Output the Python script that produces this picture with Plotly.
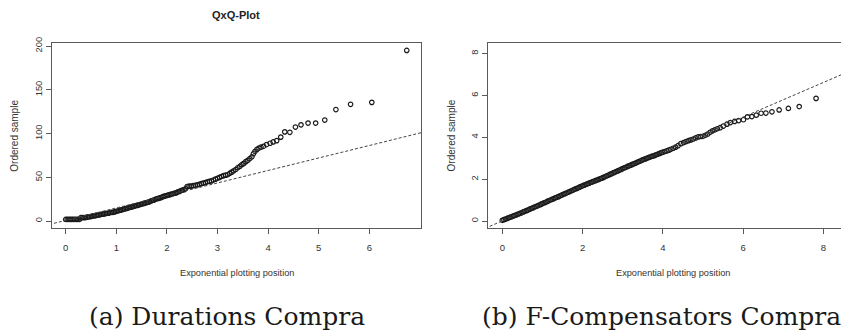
import plotly.graph_objects as go

# ---------------- data ----------------
# (a) Durations Compra : exponential plotting position vs ordered sample
dur_x = [0.00, 0.03, 0.06, 0.09, 0.12, 0.15, 0.18, 0.21, 0.24, 0.27,
         0.30, 0.33, 0.36, 0.39, 0.42, 0.45, 0.48, 0.51, 0.54, 0.57,
         0.60, 0.63, 0.66, 0.69, 0.72, 0.75, 0.78, 0.81, 0.84, 0.87,
         0.90, 0.93, 0.96, 0.99, 1.02, 1.05, 1.08, 1.11, 1.14, 1.17,
         1.20, 1.23, 1.26, 1.29, 1.32, 1.35, 1.38, 1.41, 1.44, 1.47,
         1.50, 1.53, 1.56, 1.59, 1.62, 1.65, 1.68, 1.71, 1.74, 1.77,
         1.80, 1.83, 1.86, 1.89, 1.92, 1.95, 1.98, 2.01, 2.04, 2.07,
         2.10, 2.13, 2.16, 2.19, 2.22, 2.25, 2.28, 2.31, 2.34, 2.37,
         2.40, 2.44, 2.48, 2.52, 2.56, 2.60, 2.64, 2.68, 2.72, 2.76,
         2.80, 2.84, 2.88, 2.92, 2.96, 3.00, 3.04, 3.08, 3.12, 3.16,
         3.20, 3.24, 3.28, 3.32, 3.36, 3.40, 3.44, 3.48, 3.52, 3.56,
         3.60, 3.64, 3.68, 3.71, 3.74, 3.78, 3.82, 3.86, 3.91, 3.97,
         4.04, 4.10, 4.17, 4.25, 4.33, 4.43, 4.54, 4.65, 4.79, 4.94,
         5.12, 5.34, 5.63, 6.05, 6.74]
dur_y = [2, 2, 2, 2, 2, 2, 2, 2, 2, 2,
         4, 4, 4, 4, 4.5, 5, 5, 5.5, 6, 6,
         6.5, 7, 7, 7.5, 8, 8, 8.5, 9, 9, 9.5,
         10, 10, 10.5, 11, 11.5, 12, 12.5, 13, 13.5, 14,
         14.5, 15, 15.5, 16, 16.5, 17, 17.5, 18, 18.5, 19,
         19.5, 20, 20.5, 21, 21.5, 22, 23, 23.5, 24, 25,
         25.5, 26, 26.5, 27, 28, 28.5, 29, 29.5, 30, 30.5,
         31, 31.5, 32, 32.5, 33.5, 34, 35, 35.5, 36, 37,
         39.5, 40, 40, 40.5, 41, 41.5, 42, 43, 43.5, 44,
         45, 45.5, 46, 47, 48, 49, 50, 51, 52, 52.5,
         53, 54.5, 56, 57.5, 59, 61, 62.5, 64.5, 66, 68,
         69.5, 71.5, 73.5, 77, 79.5, 82, 83.5, 84.5, 85.5, 87.5,
         89, 90.5, 92, 96, 102, 101.5, 107.5, 110, 112, 112,
         115.5, 127.5, 133.5, 135.7, 195]
dur_line = [0.85, 14.26]          # intercept, slope of the dashed reference line

# (b) F-Compensators Compra
comp_x = [0.00, 0.04, 0.08, 0.12, 0.16, 0.20, 0.24, 0.28, 0.32, 0.36,
          0.40, 0.44, 0.48, 0.52, 0.56, 0.60, 0.64, 0.68, 0.72, 0.76,
          0.80, 0.84, 0.88, 0.92, 0.96, 1.00, 1.04, 1.08, 1.12, 1.16,
          1.20, 1.24, 1.28, 1.32, 1.36, 1.40, 1.44, 1.48, 1.52, 1.56,
          1.60, 1.64, 1.68, 1.72, 1.76, 1.80, 1.84, 1.88, 1.92, 1.96,
          2.00, 2.04, 2.08, 2.12, 2.16, 2.20, 2.24, 2.28, 2.32, 2.36,
          2.40, 2.44, 2.48, 2.52, 2.56, 2.60, 2.64, 2.68, 2.72, 2.76,
          2.80, 2.84, 2.88, 2.92, 2.96, 3.00, 3.04, 3.08, 3.12, 3.16,
          3.20, 3.24, 3.28, 3.32, 3.36, 3.40, 3.44, 3.48, 3.52, 3.56,
          3.60, 3.64, 3.68, 3.72, 3.76, 3.80, 3.84, 3.88, 3.92, 3.96,
          4.00, 4.05, 4.10, 4.15, 4.20, 4.26, 4.32, 4.38, 4.45, 4.52,
          4.58, 4.64, 4.70, 4.76, 4.82, 4.88, 4.94, 5.00, 5.06, 5.12,
          5.18, 5.24, 5.30, 5.36, 5.43, 5.51, 5.60, 5.68, 5.79, 5.89,
          6.01, 6.11, 6.22, 6.33, 6.45, 6.57, 6.72, 6.90, 7.13, 7.40,
          7.82, 8.53]
comp_y = [0.04, 0.07, 0.10, 0.13, 0.16, 0.19, 0.22, 0.25, 0.28, 0.31,
          0.34, 0.37, 0.40, 0.44, 0.47, 0.50, 0.53, 0.57, 0.60, 0.63,
          0.67, 0.70, 0.73, 0.77, 0.80, 0.84, 0.87, 0.90, 0.94, 0.97,
          1.01, 1.04, 1.07, 1.11, 1.14, 1.17, 1.21, 1.24, 1.28, 1.31,
          1.34, 1.38, 1.41, 1.45, 1.48, 1.52, 1.55, 1.58, 1.62, 1.65,
          1.69, 1.72, 1.75, 1.78, 1.81, 1.84, 1.87, 1.90, 1.93, 1.96,
          1.99, 2.02, 2.05, 2.09, 2.12, 2.16, 2.19, 2.23, 2.26, 2.30,
          2.33, 2.37, 2.40, 2.44, 2.47, 2.51, 2.54, 2.57, 2.61, 2.64,
          2.67, 2.71, 2.74, 2.77, 2.81, 2.84, 2.87, 2.91, 2.94, 2.97,
          3.00, 3.03, 3.06, 3.09, 3.11, 3.14, 3.17, 3.20, 3.23, 3.26,
          3.29, 3.32, 3.35, 3.39, 3.43, 3.48, 3.53, 3.60, 3.70, 3.75,
          3.80, 3.84, 3.88, 3.92, 3.97, 4.02, 4.04, 4.05, 4.10, 4.16,
          4.24, 4.31, 4.36, 4.41, 4.46, 4.54, 4.63, 4.70, 4.76, 4.80,
          4.84, 4.98, 4.99, 5.06, 5.15, 5.16, 5.22, 5.31, 5.38, 5.47,
          5.86, 8.16]
comp_line = [0.01, 0.826]

x_ticks_a = [0, 1, 2, 3, 4, 5, 6]
y_ticks_a = [0, 50, 100, 150, 200]
x_ticks_b = [0, 2, 4, 6, 8]
y_ticks_b = [0, 2, 4, 6, 8]

title_a = "QxQ-Plot"
x_title = "Exponential plotting position"
y_title = "Ordered sample"
captions = ["(a) Durations Compra", "(b) F-Compensators Compra"]

# ---------------- figure ----------------
# the page body has an 8px margin, so the figure is made 8px smaller and
# every placement below is given in window pixels and converted.
OFF = 8
W, H = 849 - OFF, 336 - OFF
SANS = "Liberation Sans, Arial, sans-serif"
LINE_C = "#5a5a5a"
TXT_C = "#333333"

def px(xp):
    return (xp - OFF) / W

def py(yp):
    return 1 - (yp - OFF) / H

fig = go.Figure()

marker = dict(symbol="circle-open", size=4.5, color="#1a1a1a", line=dict(width=1.2, color="#1a1a1a"))

fig.add_trace(go.Scatter(x=dur_x, y=dur_y, mode="markers", marker=marker,
                         xaxis="x", yaxis="y", showlegend=False))
lx_a = [-1, 8]
fig.add_trace(go.Scatter(x=lx_a, y=[dur_line[0] + dur_line[1] * v for v in lx_a], mode="lines",
                         line=dict(color="#444444", width=1, dash="3px,2px"),
                         xaxis="x", yaxis="y", showlegend=False))

fig.add_trace(go.Scatter(x=comp_x, y=comp_y, mode="markers", marker=marker,
                         xaxis="x2", yaxis="y2", showlegend=False))
lx_b = [-1, 10]
fig.add_trace(go.Scatter(x=lx_b, y=[comp_line[0] + comp_line[1] * v for v in lx_b], mode="lines",
                         line=dict(color="#444444", width=1, dash="3px,2px"),
                         xaxis="x2", yaxis="y2", showlegend=False))

ydom = [py(226), py(38)]

common_x = dict(showgrid=False, zeroline=False, showline=True, mirror=True, linecolor=LINE_C,
                linewidth=1, ticks="outside", ticklen=5, tickwidth=1, tickcolor=LINE_C,
                tickfont=dict(family=SANS, size=9.5, color=TXT_C), ticklabelstandoff=6)
common_y = dict(showgrid=False, zeroline=False, showline=True, linecolor=LINE_C,
                linewidth=1, ticks="outside", ticklen=5, tickwidth=1, tickcolor=LINE_C,
                tickangle=-90, tickfont=dict(family=SANS, size=9.3, color=TXT_C))

fig.update_layout(
    width=W, height=H, margin=dict(l=0, r=0, t=0, b=0),
    paper_bgcolor="white", plot_bgcolor="white",
    xaxis=dict(domain=[px(52), px(421)], range=[-0.271, 7.022], anchor="y",
               tickvals=x_ticks_a, **common_x),
    yaxis=dict(domain=ydom, range=[-7.85, 203.0], anchor="x", mirror=True,
               tickvals=y_ticks_a, **common_y),
    xaxis2=dict(domain=[px(488), 1.0], range=[-0.356, 8.641], anchor="y2",
                tickvals=x_ticks_b, **common_x),
    yaxis2=dict(domain=ydom, range=[-0.328, 8.482], anchor="x2", mirror=False,
                tickvals=y_ticks_b, **common_y),
)

ann = []
ann.append(dict(text="<b>%s</b>" % title_a, x=px(236), y=py(9), xref="paper", yref="paper",
                showarrow=False, xanchor="center", yanchor="middle",
                font=dict(family=SANS, size=11, color="#222222")))
for cx in (236.5, 673):
    ann.append(dict(text=x_title, x=px(cx), y=py(272), xref="paper", yref="paper",
                    showarrow=False, xanchor="center", yanchor="middle",
                    font=dict(family=SANS, size=9.2, color=TXT_C)))
for cx in (15, 451.7):
    ann.append(dict(text=y_title, x=px(cx), y=py(132), xref="paper", yref="paper",
                    showarrow=False, xanchor="center", yanchor="middle", textangle=-90,
                    font=dict(family=SANS, size=10, color=TXT_C)))
for cx, cap in zip((227, 661), captions):
    ann.append(dict(text=cap, x=px(cx), y=py(316), xref="paper", yref="paper",
                    showarrow=False, xanchor="center", yanchor="middle",
                    font=dict(family="DejaVu Serif, serif", size=25, color="#1a1a1a")))
fig.update_layout(annotations=ann)

fig.write_html("out.html")
